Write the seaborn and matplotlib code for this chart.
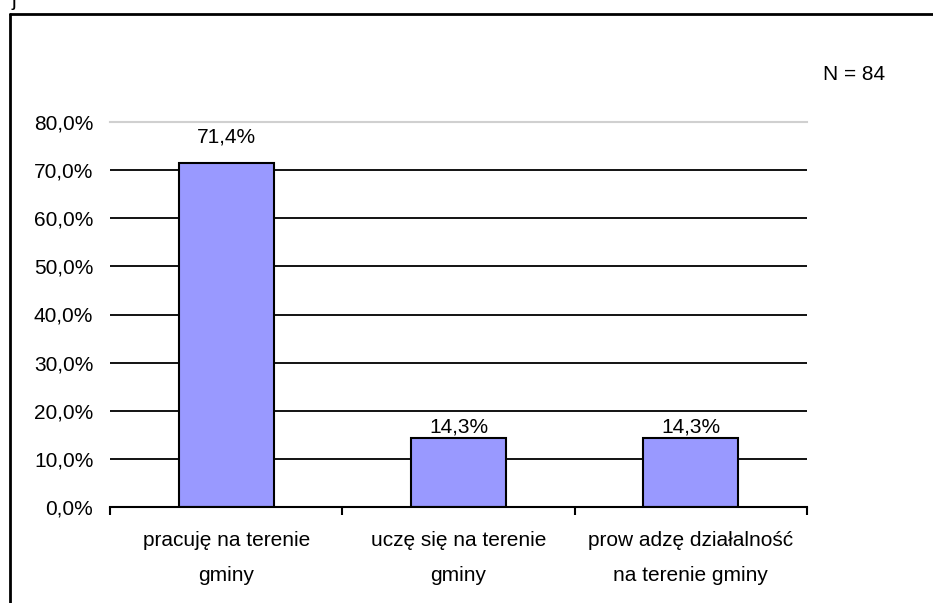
import numpy as np
import matplotlib
matplotlib.use('Agg')
import matplotlib.pyplot as plt
import seaborn as sns
from matplotlib.lines import Line2D

# dane
kategorie = ['pracuję na terenie\ngminy', 'uczę się na terenie\ngminy', 'prow adzę działalność\nna terenie gminy']
wartosci = [0.714, 0.143, 0.143]
etykiety = ['71,4%', '14,3%', '14,3%']
y_ticks = [0.0, 0.1, 0.2, 0.3, 0.4, 0.5, 0.6, 0.7, 0.8]
n_text = 'N = 84'

sns.set_theme(style='white')
plt.rcParams['font.family'] = ['Liberation Sans', 'DejaVu Sans']
plt.rcParams['text.color'] = 'black'
plt.rcParams['xtick.color'] = 'black'
plt.rcParams['ytick.color'] = 'black'

fig = plt.figure(figsize=(9.33, 6.03), dpi=100)
ax = fig.add_axes([110 / 933, 1 - 507 / 603, (807 - 110) / 933, (507 - 122) / 603])

sns.barplot(x=kategorie, y=wartosci, color='#9999FF', edgecolor='black',
            linewidth=1.5, width=0.41, saturation=1, ax=ax)

ax.set_ylim(0, 0.8)
ax.set_xlim(-0.5, 2.5)
ax.set_yticks(y_ticks)
ax.set_yticklabels([f'{t * 100:.1f}%'.replace('.', ',') for t in y_ticks], fontsize=15)
ax.tick_params(axis='y', length=0, pad=12, colors='black')

# linie siatki (bez 80%)
ax.hlines(y_ticks[1:-1], -0.5, 2.5, colors='black', linewidth=1.3, zorder=0)

# osie
for s in ['left', 'right']:
    ax.spines[s].set_visible(False)
ax.spines['top'].set_color('#d0d0d0')
ax.spines['top'].set_linewidth(1.5)
ax.spines['bottom'].set_color('black')
ax.spines['bottom'].set_linewidth(1.5)

ax.set_xticks(range(len(kategorie)))
ax.set_xticklabels(kategorie, fontsize=15, linespacing=2.1)
ax.set_xticks(np.arange(-0.5, len(kategorie), 1), minor=True)
ax.tick_params(axis='x', which='major', length=0, pad=17, colors='black')
ax.tick_params(axis='x', which='minor', length=6, width=1.5, color='black', direction='out', bottom=True)

# etykiety nad słupkami
for p, lab in zip(ax.patches, etykiety):
    h = p.get_height()
    off = 12 if h > 0.5 else 1
    ax.annotate(lab, (p.get_x() + p.get_width() / 2, h), xytext=(0, off),
                textcoords='offset points', ha='center', va='bottom', fontsize=15, color='black')

fig.text(854 / 933, 1 - 75 / 603, n_text, ha='center', va='center', fontsize=15, color='black')

# ramka
fig.add_artist(Line2D([10 / 933, 10 / 933], [0, 1 - 14 / 603], transform=fig.transFigure, color='black', linewidth=2))
fig.add_artist(Line2D([10 / 933, 1], [1 - 14 / 603, 1 - 14 / 603], transform=fig.transFigure, color='black', linewidth=2))
fig.text(12 / 933, 1.0, 'j', ha='left', va='center', fontsize=15, color='black')

fig.savefig('out.png', dpi=100, facecolor='white')
